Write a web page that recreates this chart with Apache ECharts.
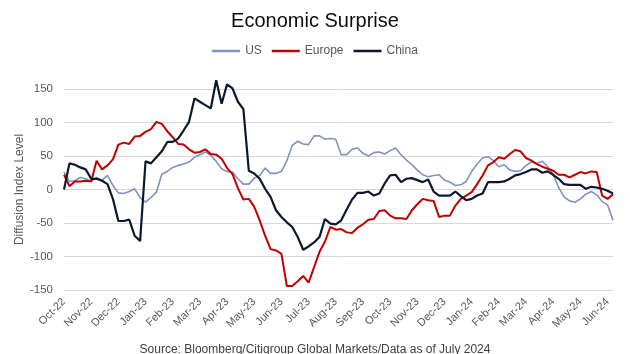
<!DOCTYPE html>
<html>
<head>
<meta charset="utf-8">
<script src="https://cdn.jsdelivr.net/npm/echarts@6/dist/echarts.min.js"></script>
<style>
  html, body { margin: 0; padding: 0; background: #ffffff; }
  #chart { width: 630px; height: 354px; }
</style>
</head>
<body>
<div id="chart"></div>
<script>
// Month tick labels (one per month, starting Oct-22)
const monthLabels = ['Oct-22','Nov-22','Dec-22','Jan-23','Feb-23','Mar-23','Apr-23','May-23','Jun-23','Jul-23','Aug-23','Sep-23','Oct-23','Nov-23','Dec-23','Jan-24','Feb-24','Mar-24','Apr-24','May-24','Jun-24'];
// Samples are taken every 0.2 month starting at Oct-22
const STEP = 0.2;
const xMax = 20.2;

const usValues = [
  26, 12, 13, 18, 16, 12, 18, 14, 21, 6,
  -5, -6, -3, 1, -12, -19, -12, -4, 23, 27,
  33, 36, 38, 41, 48, 52, 56, 51, 42, 31,
  27, 26, 16, 8, 8, 17, 21, 32, 24, 24,
  27, 43, 66, 72, 68, 67, 80, 80, 75, 76,
  75, 52, 52, 60, 62, 54, 50, 55, 56, 53,
  58, 62, 52, 44, 37, 29, 22, 19, 21, 22,
  14, 11, 6, 7, 12, 27, 38, 47, 49, 43,
  34, 37, 29, 27, 28, 36, 41, 39, 42, 34,
  22, 3, -11, -17, -19, -14, -7, -3, -8, -18,
  -23, -46
];

const europeValues = [
  22, 5, 12, 12, 13, 12, 43, 30, 36, 45,
  67, 70, 68, 79, 80, 86, 90, 101, 98, 87,
  78, 68, 67, 60, 55, 56, 60, 53, 52, 46,
  32, 23, 2, -15, -14, -26, -46, -69, -89, -91,
  -96, -144, -144, -137, -129, -139, -116, -93, -78, -56,
  -60, -59, -64, -65, -57, -52, -45, -44, -32, -31,
  -39, -43, -43, -44, -31, -22, -14, -16, -17, -41,
  -39, -39, -24, -14, -9, -4, 8, 21, 36, 41,
  48, 46, 53, 59, 57, 47, 43, 38, 34, 31,
  28, 22, 22, 18, 22, 26, 24, 27, 26, -9,
  -14, -7
];

const chinaValues = [
  0, 39, 37, 33, 30, 16, 16, 13, 8, -14,
  -47, -47, -45, -69, -77, 42, 39, 48, 57, 71,
  71, 76, 88, 101, 136, 131, 126, 121, 163, 128,
  157, 151, 131, 120, 28, 24, 16, 1, -11, -31,
  -41, -49, -56, -71, -90, -85, -79, -71, -44, -51,
  -52, -46, -30, -15, -5, -5, -3, -9, -6, 9,
  21, 22, 11, 16, 17, 14, 11, 15, -3, -9,
  -9, -9, -3, -10, -16, -14, -9, -6, 11, 11,
  11, 12, 16, 21, 23, 26, 30, 30, 25, 27,
  22, 16, 8, 7, 7, 7, 1, 4, 3, 1,
  -2, -6
];

const toPairs = (arr) => arr.map((v, i) => [+(i * STEP).toFixed(2), v]);

const FONT = "'Liberation Sans', Arial, sans-serif";
const chart = echarts.init(document.getElementById('chart'), null, { renderer: 'canvas' });

chart.setOption({
  animation: false,
  backgroundColor: '#ffffff',
  textStyle: { fontFamily: FONT },
  title: [
    {
      text: 'Economic Surprise',
      left: 'center',
      top: 6,
      textStyle: { fontFamily: FONT, fontSize: 20, fontWeight: 'normal', color: '#0d0d0d' }
    },
    {
      text: 'Source: Bloomberg/Citigroup Global Markets/Data as of July 2024',
      left: 'center',
      top: 339,
      textStyle: { fontFamily: FONT, fontSize: 12, fontWeight: 'normal', color: '#404040' }
    }
  ],
  legend: {
    top: 40,
    left: 'center',
    icon: 'rect',
    itemWidth: 28,
    itemHeight: 2.5,
    itemGap: 10,
    textStyle: { fontFamily: FONT, fontSize: 12, color: '#595959' },
    data: ['US', 'Europe', 'China']
  },
  grid: { left: 64, right: 17, top: 89, bottom: 64, containLabel: false },
  xAxis: {
    type: 'value',
    min: 0,
    max: xMax,
    interval: 1,
    axisLine: { show: true, lineStyle: { color: '#d9d9d9' } },
    axisTick: { show: false },
    splitLine: { show: false },
    axisLabel: {
      rotate: 45,
      margin: 10,
      fontFamily: FONT,
      fontSize: 11,
      color: '#595959',
      showMaxLabel: false,
      formatter: (v) => {
        const k = Math.round(v);
        return Math.abs(v - k) < 1e-6 && monthLabels[k] ? monthLabels[k] : '';
      }
    }
  },
  yAxis: {
    type: 'value',
    min: -150,
    max: 150,
    interval: 50,
    name: 'Diffusion Index Level',
    nameLocation: 'middle',
    nameGap: 38,
    nameMoveOverlap: false,
    nameTextStyle: { fontFamily: FONT, fontSize: 12, color: '#595959' },
    axisLine: { show: false },
    axisTick: { show: false },
    splitLine: { show: true, lineStyle: { color: '#d9d9d9', width: 1 } },
    axisLabel: { margin: 11, fontFamily: FONT, fontSize: 11.5, color: '#595959' }
  },
  series: [
    {
      name: 'US',
      type: 'line',
      data: toPairs(usValues),
      showSymbol: false,
      clip: false,
      lineStyle: { color: '#7f93be', width: 1.6 },
      itemStyle: { color: '#7f93be' }
    },
    {
      name: 'Europe',
      type: 'line',
      data: toPairs(europeValues),
      showSymbol: false,
      clip: false,
      lineStyle: { color: '#c00000', width: 2 },
      itemStyle: { color: '#c00000' }
    },
    {
      name: 'China',
      type: 'line',
      data: toPairs(chinaValues),
      showSymbol: false,
      clip: false,
      lineStyle: { color: '#0c1730', width: 2.2 },
      itemStyle: { color: '#0c1730' }
    }
  ]
});
</script>
</body>
</html>
